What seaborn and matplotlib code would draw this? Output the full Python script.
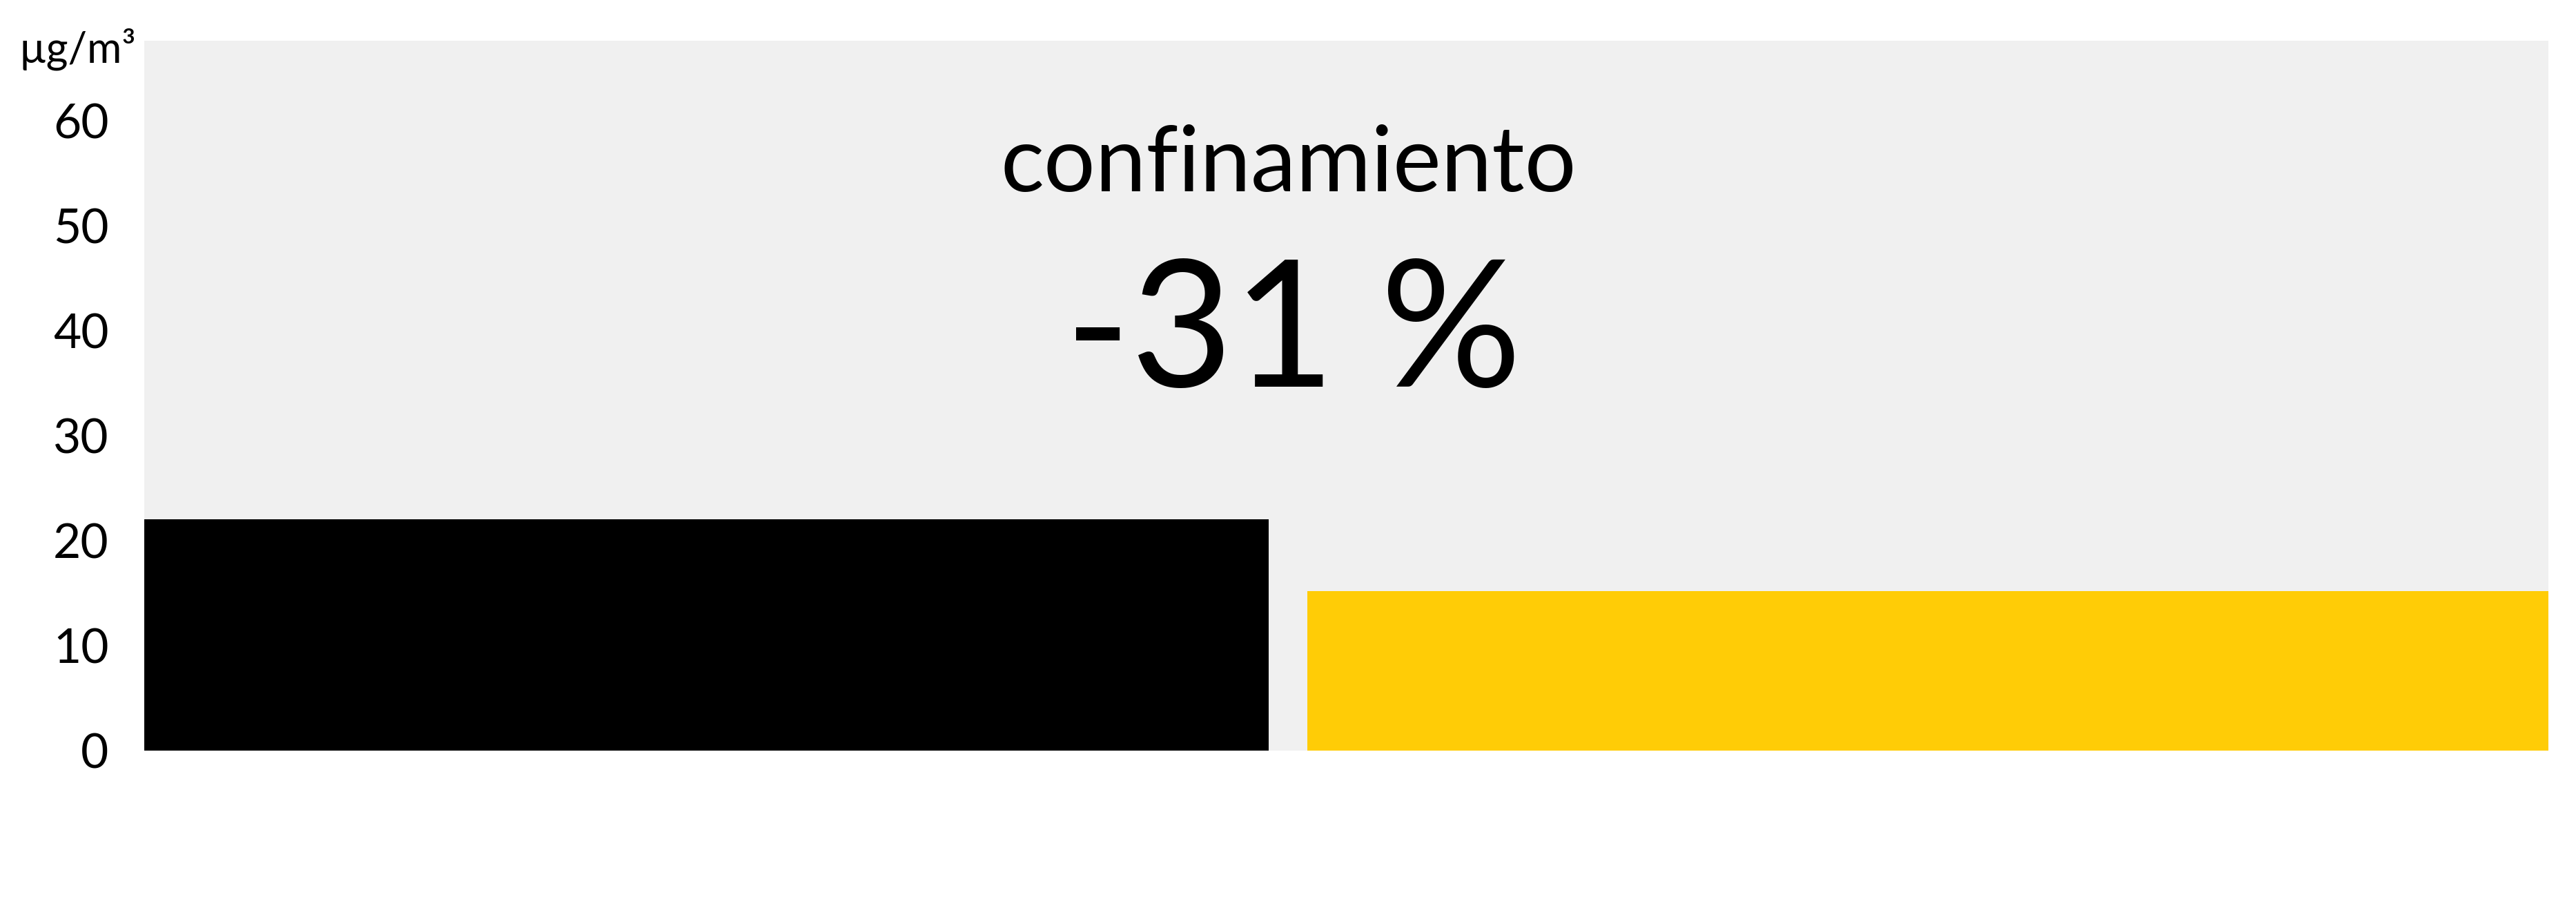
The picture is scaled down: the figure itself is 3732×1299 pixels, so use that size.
import numpy as np
import pandas as pd
import matplotlib
matplotlib.use("Agg")
import matplotlib.pyplot as plt
import seaborn as sns

# ---- data ----
periods = ["antes", "confinamiento"]
values = [22.0, 15.2]            # µg/m3
period_start = [0, 30]          # day index where each period starts
period_end = [29, 62]           # day index where each period ends
colors = ["#000000", "#ffcc06"]
yticks = [0, 10, 20, 30, 40, 50, 60]
unit_label = "µg/m³"
title_text = "confinamiento"
change_text = "-31 %"

sns.set_theme(style="white")
plt.rcParams["font.family"] = ["Lato", "DejaVu Sans"]

W, H = 3732, 1299
fig = plt.figure(figsize=(W / 100, H / 100), dpi=100)
ax_left, ax_right, ax_top, ax_bottom = 209, 3692, 59, 1087
ax = fig.add_axes([ax_left / W, 1 - ax_bottom / H,
                   (ax_right - ax_left) / W, (ax_bottom - ax_top) / H])

df = pd.DataFrame({
    "period": periods,
    "mid": [(s + e) / 2 for s, e in zip(period_start, period_end)],
    "value": values,
})
edges = sorted(set(period_start + period_end))

sns.histplot(data=df, x="mid", weights="value", hue="period", bins=edges,
             multiple="layer", palette=dict(zip(periods, colors)),
             alpha=1, linewidth=0, legend=False, ax=ax)

ax.set_facecolor("#f0f0f0")
ax.set_xlim(period_start[0], period_end[-1])
ax.set_ylim(0, 67.6)
ax.set_yticks(yticks)
ax.set_yticklabels([str(t) for t in yticks], fontsize=50, color="black")
ax.tick_params(axis="y", length=0, pad=37)
ax.set_xticks([])
ax.set_xlabel("")
ax.set_ylabel("")
for s in ax.spines.values():
    s.set_visible(False)

fig.text(197 / W, 1 - 90 / H, unit_label, ha="right", va="baseline",
         fontsize=44, color="black")

ax.text(0.476, 0.788, title_text, transform=ax.transAxes, ha="center",
        va="baseline", fontsize=95, color="black")
ax.text(0.478, 0.513, change_text, transform=ax.transAxes, ha="center",
        va="baseline", fontsize=184, color="black")

fig.savefig("out.png", dpi=100, facecolor="white")
